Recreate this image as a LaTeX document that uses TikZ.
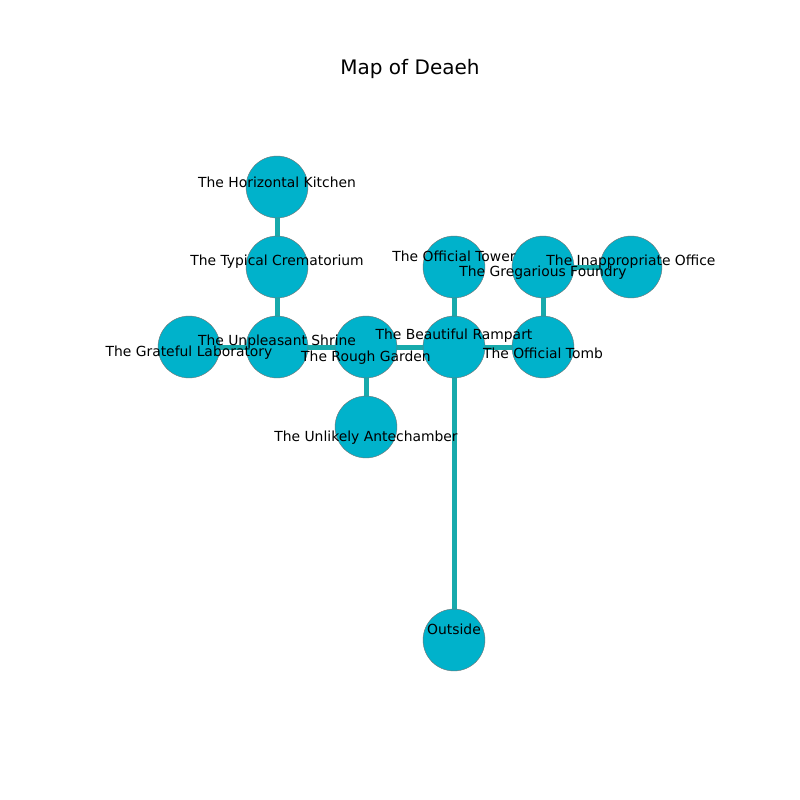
\documentclass[tikz,border=0pt]{standalone}
\usepackage{fontspec}
\setmainfont{DejaVu Sans}
\usetikzlibrary{backgrounds}
\definecolor{roomfill}{HTML}{00B2CB}
\definecolor{roomedge}{HTML}{17AAAC}
\begin{document}
\begin{tikzpicture}[x=0.72pt,y=-0.72pt,
  room/.style={circle,draw=black!55,line width=0.3pt,fill=roomfill,minimum size=44.6pt,inner sep=0pt},
  lbl/.style={font=\fontsize{10}{12}\selectfont,inner sep=0pt,text=black,yshift=-0.7pt},
  link/.style={draw=roomedge,line width=3.6pt}]
\useasboundingbox (0,0) rectangle (800,800);
\node[font=\fontsize{14.4}{17}\selectfont] (title) at (410,69) {Map of Deaeh};
\node[room] (kit) at (277,187) {};
\node[room] (cre) at (277,267) {};
\node[room] (shr) at (277,347) {};
\node[room] (lab) at (189,347) {};
\node[room] (gar) at (366,347) {};
\node[room] (ant) at (366,427) {};
\node[room] (ram) at (454,347) {};
\node[room] (tow) at (454,267) {};
\node[room] (tom) at (543,347) {};
\node[room] (fou) at (543,267) {};
\node[room] (off) at (631,267) {};
\node[room] (out) at (454,640) {};
\begin{scope}[on background layer]
\draw[link] (kit.center) -- (cre.center);
\draw[link] (cre.center) -- (shr.center);
\draw[link] (shr.center) -- (lab.center);
\draw[link] (shr.center) -- (gar.center);
\draw[link] (gar.center) -- (ant.center);
\draw[link] (gar.center) -- (ram.center);
\draw[link] (ram.center) -- (tow.center);
\draw[link] (ram.center) -- (tom.center);
\draw[link] (ram.center) -- (out.center);
\draw[link] (tom.center) -- (fou.center);
\draw[link] (fou.center) -- (off.center);
\end{scope}
\node[lbl] (lkit) at (277,181) {The Horizontal Kitchen};
\node[lbl] (lcre) at (277,261) {The Typical Crematorium};
\node[lbl] (lshr) at (277,341) {The Unpleasant Shrine};
\node[lbl] (llab) at (189,352) {The Grateful Laboratory};
\node[lbl] (lgar) at (366,357) {The Rough Garden};
\node[lbl] (lant) at (366,437) {The Unlikely Antechamber};
\node[lbl] (lram) at (454,335) {The Beautiful Rampart};
\node[lbl] (ltow) at (454,255) {The Official Tower};
\node[lbl] (ltom) at (543,352) {The Official Tomb};
\node[lbl] (lfou) at (543,272) {The Gregarious Foundry};
\node[lbl] (loff) at (631,261) {The Inappropriate Office};
\node[lbl] (lout) at (454,628) {Outside};
\end{tikzpicture}
\end{document}
